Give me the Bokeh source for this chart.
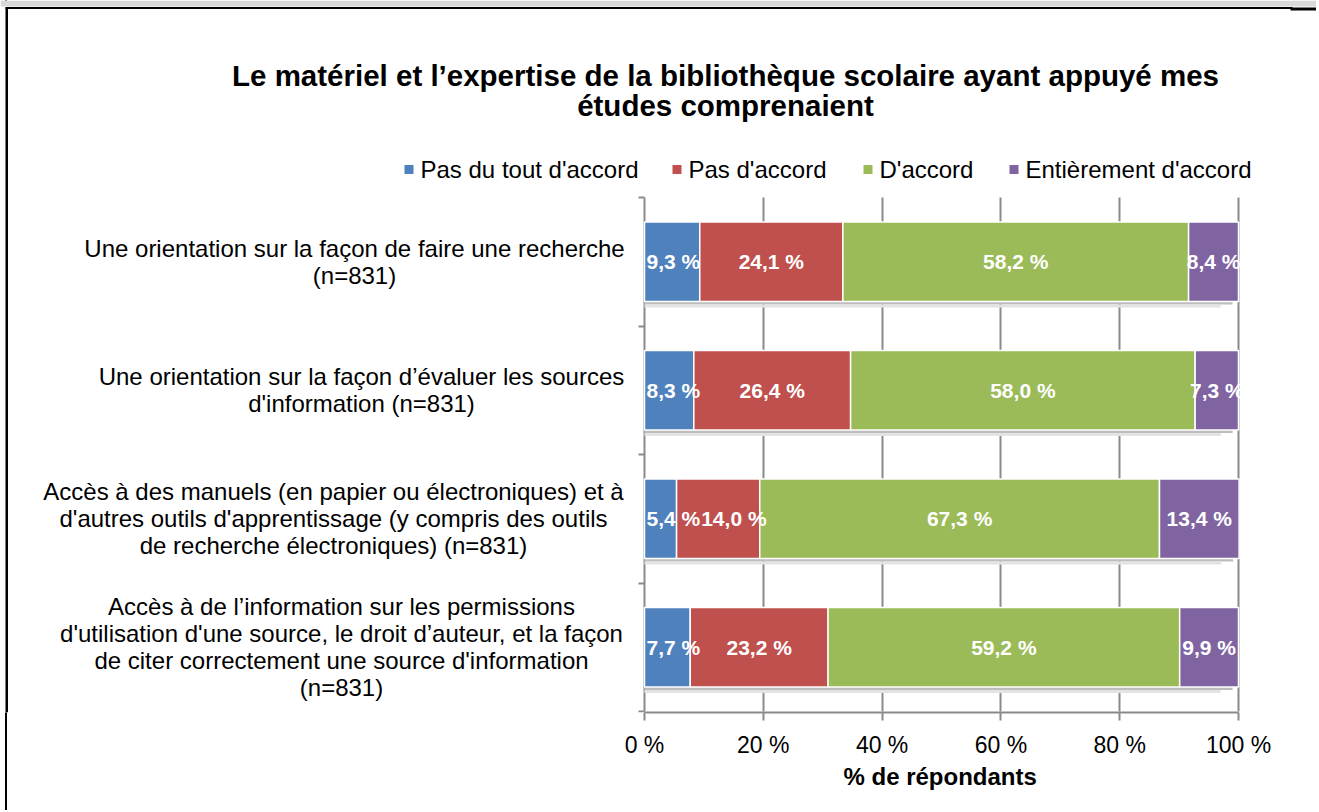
from bokeh.plotting import figure
from bokeh.models import Range1d, FixedTicker, Label, ColumnDataSource, Title
from bokeh.core.properties import value
from bokeh.embed import file_html
from bokeh.resources import INLINE

# ---------------- data ----------------
title_lines = ["Le matériel et l\u2019expertise de la bibliothèque scolaire ayant appuyé mes",
               "études comprenaient"]
series = ["Pas du tout d'accord", "Pas d'accord", "D'accord", "Entièrement d'accord"]
colors = ["#4F81BD", "#C0504D", "#9BBB59", "#8064A2"]
category_lines = [
    ["Une orientation sur la façon de faire une recherche", "(n=831)"],
    ["Une orientation sur la façon d\u2019évaluer les sources", "d'information (n=831)"],
    ["Accès à des manuels (en papier ou électroniques) et à",
     "d'autres outils d'apprentissage (y compris des outils",
     "de recherche électroniques) (n=831)"],
    ["Accès à de l\u2019information sur les permissions",
     "d'utilisation d'une source, le droit d\u2019auteur, et la façon",
     "de citer correctement une source d'information",
     "(n=831)"],
]
pas_du_tout = [9.3, 8.3, 5.4, 7.7]
pas_accord = [24.1, 26.4, 14.0, 23.2]
accord = [58.2, 58.0, 67.3, 59.2]
entierement = [8.4, 7.3, 13.4, 9.9]
x_ticks = [0, 20, 40, 60, 80, 100]
x_tick_labels = ["0 %", "20 %", "40 %", "60 %", "80 %", "100 %"]
x_axis_label = "% de répondants"

FONT = "Liberation Sans"

# ---------------- layout (page pixels) ----------------
W, H = 1316, 810
X0, X100 = 644, 1238     # page px of 0 % and 100 %
Y0, Y4 = 197, 711        # page px of top and bottom category boundaries
FRAME_R, FRAME_B = W, 712
XS = (X100 - X0) / 100.0
YS = (Y4 - Y0) / 4.0
def px_to_x(px):
    return (px - X0) / XS
def py_to_y(py):
    return (py - Y0) / YS

p = figure(width=W, height=H, output_backend="svg", toolbar_location=None,
           x_range=Range1d(px_to_x(0), px_to_x(FRAME_R)),
           y_range=Range1d(py_to_y(FRAME_B), py_to_y(0)),
           y_axis_location=None,
           min_border_left=0, min_border_top=0,
           min_border_right=W - FRAME_R, min_border_bottom=H - FRAME_B)
p.outline_line_color = None
p.background_fill_color = "white"
p.border_fill_alpha = 0
# left rule of the surrounding table, continued below the plot area
p.styles = {"background": "linear-gradient(to right, white 5px, black 5px, black 7.5px, white 7.5px)"}

GRID = "#8A8A8A"
# vertical grid (includes the value-axis line at 0)
p.xgrid.ticker = FixedTicker(ticks=x_ticks)
p.xgrid.cross_bounds = (0, 4)
p.xgrid.grid_line_color = GRID
p.xgrid.grid_line_width = 2
# category-axis ticks (short outward marks left of the axis line)
p.ygrid.ticker = FixedTicker(ticks=[0, 1, 2, 3, 4])
p.ygrid.cross_bounds = (-6 / XS, 0)
p.ygrid.grid_line_color = GRID
p.ygrid.grid_line_width = 2

# x axis
xa = p.xaxis[0]
xa.bounds = (0, 100)
xa.ticker = FixedTicker(ticks=x_ticks)
xa.major_label_overrides = {t: l for t, l in zip(x_ticks, x_tick_labels)}
xa.major_label_text_font = FONT
xa.major_label_text_font_size = "23px"
xa.major_label_text_color = "black"
xa.major_label_standoff = 11
xa.major_tick_out = 8
xa.major_tick_in = 0
xa.minor_tick_out = 0
xa.minor_tick_in = 0
xa.axis_line_color = GRID
xa.axis_line_width = 2
xa.major_tick_line_color = GRID
xa.major_tick_line_width = 2

# axis title, centred under the 0-100 % span
p.add_layout(Title(text=x_axis_label, align="left", offset=843, standoff=0,
                   text_font=FONT, text_font_size="24px", text_font_style="bold",
                   text_color="black", text_line_height=0.9), "below")

# page frame decoration (grey strip + black rules of the surrounding table)
p.quad(left=[px_to_x(0)], right=[px_to_x(W)], top=[py_to_y(0)], bottom=[py_to_y(6)],
       fill_color="#D9D9D9", line_color=None)
p.segment(x0=[px_to_x(5)], x1=[px_to_x(1292)], y0=[py_to_y(7.5)], y1=[py_to_y(7.5)],
          line_color="black", line_width=2)
p.segment(x0=[px_to_x(1290)], x1=[px_to_x(W)], y0=[py_to_y(8.5)], y1=[py_to_y(8.5)],
          line_color="black", line_width=3)
p.segment(x0=[px_to_x(6.25)], x1=[px_to_x(6.25)], y0=[py_to_y(7)], y1=[py_to_y(FRAME_B)],
          line_color="black", line_width=2.5)

# bars
ys = [i + 0.5 for i in range(len(category_lines))]
vals = [pas_du_tout, pas_accord, accord, entierement]
bar_h = 0.62

totals = [sum(v[i] for v in vals) for i in range(len(ys))]
sh1 = ColumnDataSource(dict(y=[y + bar_h / 2 + 1.5 / YS for y in ys], r=[t - 1 for t in totals]))
sh2 = ColumnDataSource(dict(y=[y + bar_h / 2 + 4.5 / YS for y in ys], r=[t - 3 for t in totals]))
p.hbar(y="y", left=0, right="r", height=3 / YS, source=sh1, fill_color="#BDBDBD", line_color=None)
p.hbar(y="y", left=0, right="r", height=3 / YS, source=sh2, fill_color="#E3E3E3", line_color=None)

# value-label width estimate (bold Arial-metric advance widths, em units) to avoid overlaps
VAL_FS = 21
ADV = {",": 0.278, " ": 0.278, "%": 0.889}
def label_w_px(t):
    return sum(ADV.get(c, 0.556) for c in t) * VAL_FS

left = [0.0] * len(ys)
prev_right_px = [X0 + 1.0] * len(ys)
label_x, label_y, label_t = [], [], []
for name, col, v in zip(series, colors, vals):
    right = [l + x for l, x in zip(left, v)]
    src = ColumnDataSource(dict(y=ys, left=left, right=right))
    p.hbar(y="y", left="left", right="right", height=bar_h, source=src,
           fill_color=col, line_color="white", line_width=1.5)
    for i in range(len(ys)):
        t = ("%.1f %%" % v[i]).replace(".", ",")
        w = label_w_px(t)
        mid_px = X0 + (left[i] + right[i]) / 2 * XS
        start_px = max(mid_px - w / 2, prev_right_px[i] + 1)
        prev_right_px[i] = start_px + w
        label_x.append(px_to_x(start_px + w / 2))
        label_y.append(ys[i])
        label_t.append(t)
    left = right

p.text(x=label_x, y=label_y, text=label_t, text_align="center", text_baseline="middle",
       text_color="white", text_font=value(FONT), text_font_style="bold",
       text_font_size="%dpx" % VAL_FS)

# legend (manual, horizontal, above the plot)
legend_text_px = [420, 688, 879, 1025]
legend_y = py_to_y(169)
p.scatter(x=[px_to_x(t - 11.5) for t in legend_text_px], y=[legend_y] * 4, marker="square",
          size=9, fill_color=colors, line_color=None)
p.text(x=[px_to_x(t) for t in legend_text_px], y=[legend_y] * 4, text=series,
       text_align="left", text_baseline="middle", text_color="black",
       text_font=value(FONT), text_font_size="24px")

# category labels (centered multi-line blocks)
centers_px = [354, 361, 333, 341]
line_gap = 27
for lines, yc, cx in zip(category_lines, ys, centers_px):
    n = len(lines)
    for k, t in enumerate(lines):
        p.add_layout(Label(x=px_to_x(cx), y=yc, y_offset=((n - 1) / 2 - k) * line_gap,
                           text=t, text_align="center", text_baseline="middle",
                           text_font=FONT, text_font_size="24px", text_color="black"))

# title
title_y_px = [75, 105]
for t, ty in zip(title_lines, title_y_px):
    p.add_layout(Label(x=px_to_x(725), y=py_to_y(ty), text=t, text_align="center",
                       text_baseline="middle", text_font=FONT, text_font_size="29.5px",
                       text_font_style="bold", text_color="black"))

open("out.html", "w").write(file_html(p, INLINE))
